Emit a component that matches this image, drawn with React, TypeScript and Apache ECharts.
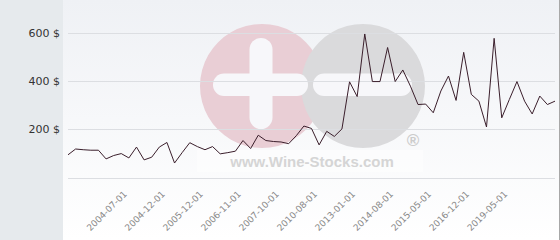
import React, { useEffect, useRef } from "react";
import * as echarts from "echarts";

const dates: string[] = [
  "2003-11-01", "2003-12-01", "2004-01-01", "2004-02-01", "2004-03-01", "2004-04-01", "2004-05-01", "2004-06-01",
  "2004-07-01", "2004-08-01", "2004-09-01", "2004-10-01", "2004-11-01", "2004-12-01", "2005-02-01", "2005-04-01",
  "2005-06-01", "2005-09-01", "2005-12-01", "2006-02-01", "2006-04-01", "2006-06-01", "2006-09-01", "2006-11-01",
  "2007-01-01", "2007-03-01", "2007-05-01", "2007-08-01", "2007-10-01", "2008-04-01", "2008-10-01", "2009-04-01",
  "2009-11-01", "2010-08-01", "2011-02-01", "2011-08-01", "2012-03-01", "2012-08-01", "2013-01-01", "2013-04-01",
  "2013-08-01", "2013-11-01", "2014-03-01", "2014-08-01", "2014-10-01", "2014-12-01", "2015-02-01", "2015-03-01",
  "2015-05-01", "2015-09-01", "2016-01-01", "2016-05-01", "2016-09-01", "2016-12-01", "2017-06-01", "2017-12-01",
  "2018-05-01", "2018-11-01", "2019-05-01", "2019-11-01", "2020-05-01", "2020-11-01", "2021-05-01", "2021-11-01",
  "2022-05-01",
];

const prices: number[] = [
  96, 120, 117, 115, 115, 79, 93, 101,
  83, 128, 75, 86, 128, 147, 62, 105,
  146, 130, 117, 130, 100, 105, 111, 155,
  122, 177, 155, 151, 149, 142, 175, 215,
  205, 137, 193, 172, 203, 398, 337, 596,
  399, 399, 540, 399, 447, 380, 304, 306,
  270, 360, 422, 321, 520, 346, 318, 211,
  578, 249, 325, 399, 318, 265, 339, 304,
  318,
];

const yTicks: number[] = [0, 200, 400, 600];
const labelIndices: number[] = [8, 13, 18, 23, 28, 33, 38, 43, 48, 53, 58];

export default function App() {
  const ref = useRef<HTMLDivElement>(null);
  useEffect(() => {
    if (!ref.current) return;
    const chart = echarts.init(ref.current, undefined, { renderer: "svg" });
    chart.setOption({
      animation: false,
      backgroundColor: "transparent",
      graphic: [
        { type: "rect", z: -20, shape: { x: 0, y: 0, width: 63, height: 240 }, style: { fill: "#e6eaed" } },
        {
          type: "rect", z: -20, shape: { x: 63, y: 0, width: 497, height: 240 },
          style: {
            fill: new echarts.graphic.LinearGradient(0, 0, 0, 1, [
              { offset: 0, color: "#eff1f5" },
              { offset: 1, color: "#ffffff" },
            ]),
          },
        },
        { type: "rect", z: -19, shape: { x: 559, y: 0, width: 1, height: 240 }, style: { fill: "#a8a8a8" } },
        { type: "circle", z: -15, shape: { cx: 262, cy: 86, r: 62 }, style: { fill: "#e9ced5" } },
        { type: "circle", z: -14, shape: { cx: 363, cy: 86, r: 62 }, style: { fill: "#dadadc" } },
        { type: "rect", z: -13, shape: { x: 213, y: 73.5, width: 95, height: 22.5, r: 11 }, style: { fill: "#f7f7fa" } },
        { type: "rect", z: -13, shape: { x: 249.5, y: 38, width: 23, height: 91, r: 11.5 }, style: { fill: "#f7f7fa" } },
        { type: "rect", z: -13, shape: { x: 313, y: 73.5, width: 99, height: 22.5, r: 11 }, style: { fill: "#f7f7fa" } },
        { type: "rect", z: -13, shape: { x: 197, y: 150, width: 226, height: 22 }, style: { fill: "rgba(255,255,255,0.45)" } },
        {
          type: "text", z: -12, x: 312, y: 161,
          style: {
            text: "www.Wine-Stocks.com", fill: "#d5d5d5", font: "bold 15px 'Liberation Sans', Arial, sans-serif",
            align: "center", verticalAlign: "middle",
          },
        },
        {
          type: "text", z: -12, x: 413, y: 140,
          style: { text: "®", fill: "#cccccc", font: "bold 17px 'Liberation Sans', Arial, sans-serif", align: "center", verticalAlign: "middle" },
        },
      ],
      grid: { left: 68, right: 5, top: 33, bottom: 62, containLabel: false },
      xAxis: {
        type: "category",
        data: dates,
        boundaryGap: false,
        axisLine: { show: false },
        axisTick: { show: false },
        splitLine: { show: false },
        axisLabel: {
          rotate: 45,
          interval: (i: number) => labelIndices.includes(i),
          fontSize: 9,
          color: "#888888",
          fontFamily: "'DejaVu Sans', Verdana, sans-serif",
          margin: 11,
          padding: [0, 5, 0, 0],
        },
      },
      yAxis: {
        type: "value",
        min: yTicks[0],
        max: yTicks[yTicks.length - 1],
        interval: 200,
        axisLine: { show: false },
        axisTick: { show: false },
        splitLine: { show: true, lineStyle: { color: "#dcdee2", width: 1 } },
        axisLabel: {
          formatter: (v: number) => (v === 0 ? "" : `${v} $`),
          fontSize: 11,
          color: "#333333",
          fontFamily: "'DejaVu Sans', Verdana, sans-serif",
          margin: 8,
        },
      },
      series: [
        {
          type: "line",
          data: prices,
          symbol: "none",
          lineStyle: { color: "#3a1e2b", width: 1 },
          z: 5,
        },
      ],
    });
    return () => chart.dispose();
  }, []);
  return <div ref={ref} style={{ width: 560, height: 240, position: "absolute", left: 0, top: 0 }} />;
}
